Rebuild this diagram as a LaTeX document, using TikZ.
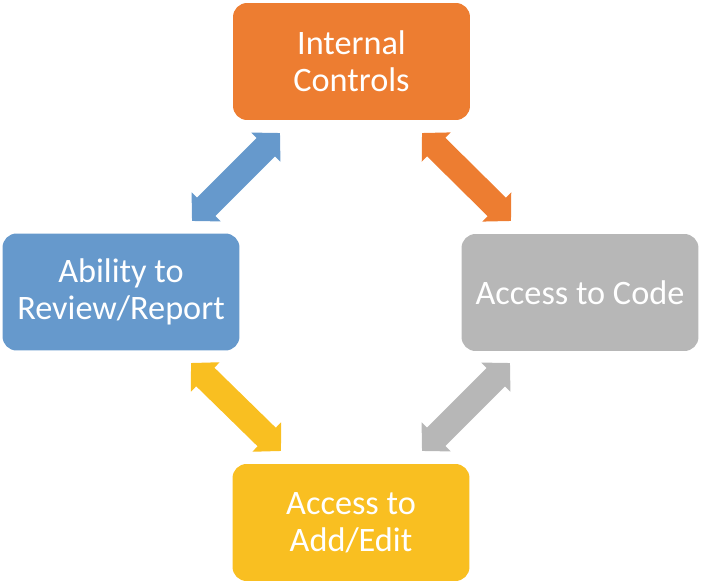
\documentclass[tikz,border=0pt]{standalone}
\usepackage{fontspec}
\setmainfont{Carlito}
\usetikzlibrary{arrows.meta}
\definecolor{ctrlorange}{HTML}{ED7D31}
\definecolor{revblue}{HTML}{6699CC}
\definecolor{codegray}{HTML}{B7B7B7}
\definecolor{edityellow}{HTML}{F9BF21}
\tikzstyle{box}=[rectangle,rounded corners=8pt,minimum width=4.74cm,minimum height=2.34cm,inner sep=2pt,align=center,text=white,font=\fontsize{19.5}{21}\selectfont]
\tikzstyle{link}=[line width=0.52cm,{Triangle[width=0.8cm,length=0.4cm]}-{Triangle[width=0.8cm,length=0.4cm]}]

\begin{document}
\begin{tikzpicture}[x=0.02cm,y=-0.02cm]

    \useasboundingbox (0,0) rectangle (704,584);

    % the four boxes
    \node[box, fill=ctrlorange] (ctrl) at (351.5,61.5) {Internal\\Controls};
    \node[box, fill=revblue]    (rev)  at (121,292)    {Ability to\\Review/Report};
    \node[box, fill=codegray]   (code) at (580,292.5)  {Access to Code};
    \node[box, fill=edityellow] (edit) at (351,522.5)  {Access to\\Add/Edit};

    % arrow ends
    \foreach \x/\y/\name in {280/133/bA, 192/221/bB, 422/133/oA, 511/221/oB,
                             510/363/gA, 422/451/gB, 191/363/yA, 281/451/yB}
        \coordinate (\name) at (\x,\y);

    \draw[link, revblue]    (bA) -- (bB);
    \draw[link, ctrlorange] (oA) -- (oB);
    \draw[link, codegray]   (gA) -- (gB);
    \draw[link, edityellow] (yA) -- (yB);

\end{tikzpicture}
\end{document}
